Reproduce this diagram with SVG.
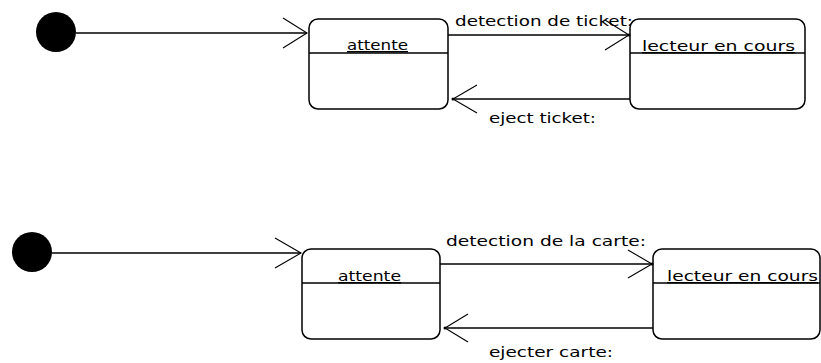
<svg xmlns="http://www.w3.org/2000/svg" width="821" height="363" viewBox="0 0 821 363">
  <style>
    .state { fill: #ffffff; stroke: #000000; stroke-width: 1.5; }
    .divider { stroke: #000000; stroke-width: 1.5; }
    .initial { fill: #000000; }
    .edge { stroke: #000000; stroke-width: 1.5; fill: none; }
    .head { stroke: #000000; stroke-width: 1.1; fill: none; }
    .tip { fill: #000000; }
    .name { font-family: "DejaVu Sans", "Liberation Sans", Arial, sans-serif; font-size: 14px; fill: #000000; text-decoration: underline; }
    .label { font-family: "DejaVu Sans", "Liberation Sans", Arial, sans-serif; font-size: 14px; fill: #000000; }
  </style>
  <rect width="821" height="363" fill="#ffffff"/>

  <!-- upper machine: ticket reader -->
  <g id="init1">
    <circle class="initial" cx="56" cy="32" r="20"/>
  </g>
  <g id="attente1">
    <rect class="state" x="309" y="19" width="139" height="90" rx="9"/>
    <line class="divider" x1="309" y1="53" x2="448" y2="53"/>
    <text class="name" x="347" y="50" textLength="61" lengthAdjust="spacingAndGlyphs">attente</text>
  </g>
  <g id="lecteur1">
    <rect class="state" x="630" y="19" width="175" height="90" rx="9"/>
    <line class="divider" x1="630" y1="53" x2="805" y2="53"/>
    <text class="name" x="642" y="51" textLength="153" lengthAdjust="spacingAndGlyphs">lecteur en cours</text>
  </g>

  <!-- lower machine: card reader -->
  <g id="init2">
    <circle class="initial" cx="32" cy="252" r="20"/>
  </g>
  <g id="attente2">
    <rect class="state" x="302" y="249" width="138" height="90" rx="9"/>
    <line class="divider" x1="302" y1="283" x2="440" y2="283"/>
    <text class="name" x="338" y="281" textLength="63" lengthAdjust="spacingAndGlyphs">attente</text>
  </g>
  <g id="lecteur2">
    <rect class="state" x="653" y="249" width="167" height="90" rx="9"/>
    <line class="divider" x1="653" y1="283" x2="820" y2="283"/>
    <text class="name" x="667" y="281" textLength="151" lengthAdjust="spacingAndGlyphs">lecteur en cours</text>
  </g>

  <g id="connectors">
    <!-- initial -> attente (upper) -->
    <line class="edge" x1="76" y1="33" x2="307" y2="33"/>
    <polyline class="head" points="283,18 307,33 283,48"/>
    <!-- attente -> lecteur (upper) -->
    <line class="edge" x1="448" y1="35" x2="629" y2="35"/>
    <polyline class="head" points="605,20 629,35 605,50"/>
    <circle class="tip" cx="629" cy="35" r="1.5"/>
    <text class="label" x="455" y="26" textLength="178" lengthAdjust="spacingAndGlyphs">detection de ticket:</text>
    <!-- lecteur -> attente (upper) -->
    <line class="edge" x1="630" y1="99" x2="453" y2="99"/>
    <polyline class="head" points="477,85 453,99 477,113"/>
    <circle class="tip" cx="453" cy="99" r="1.5"/>
    <text class="label" x="489" y="123" textLength="107" lengthAdjust="spacingAndGlyphs">eject ticket:</text>

    <!-- initial -> attente (lower) -->
    <line class="edge" x1="52" y1="253" x2="301" y2="253"/>
    <polyline class="head" points="275,238 301,253 275,268"/>
    <!-- attente -> lecteur (lower) -->
    <line class="edge" x1="440" y1="264" x2="652" y2="264"/>
    <polyline class="head" points="628,250 652,264 628,278"/>
    <circle class="tip" cx="652" cy="264" r="1.5"/>
    <text class="label" x="446" y="246" textLength="200" lengthAdjust="spacingAndGlyphs">detection de la carte:</text>
    <!-- lecteur -> attente (lower) -->
    <line class="edge" x1="653" y1="328" x2="445" y2="328"/>
    <polyline class="head" points="468,314 445,328 468,342"/>
    <circle class="tip" cx="445" cy="328" r="1.5"/>
    <text class="label" x="489" y="357" textLength="124" lengthAdjust="spacingAndGlyphs">ejecter carte:</text>
  </g>
</svg>
